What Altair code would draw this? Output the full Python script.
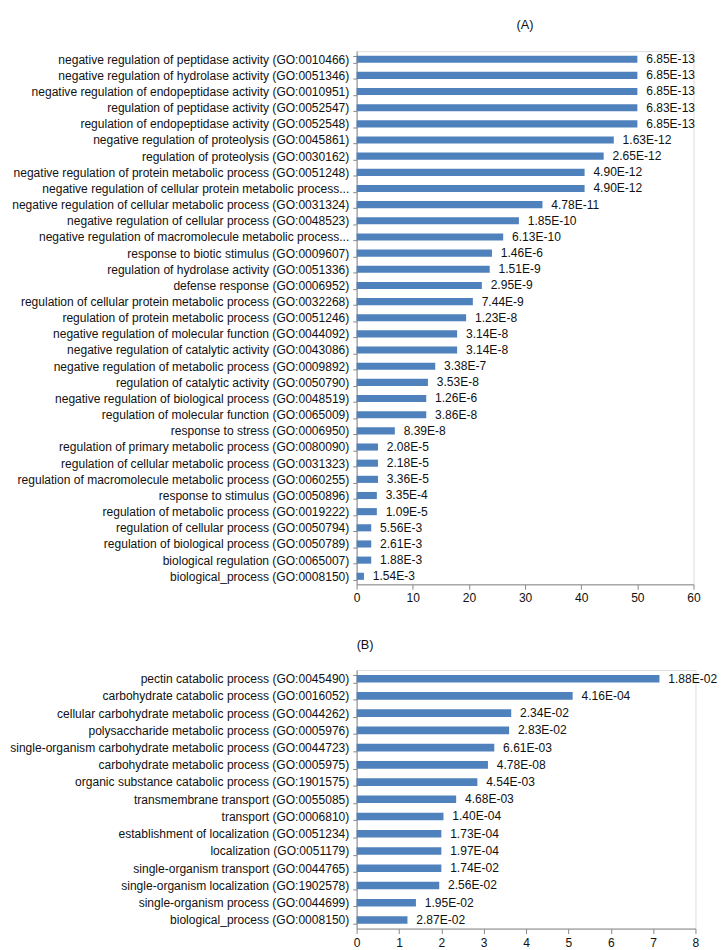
import altair as alt
import pandas as pd

# ---------- Panel A data ----------
a_terms = [
    "negative regulation of peptidase activity (GO:0010466)",
    "negative regulation of hydrolase activity (GO:0051346)",
    "negative regulation of endopeptidase activity (GO:0010951)",
    "regulation of peptidase activity (GO:0052547)",
    "regulation of endopeptidase activity (GO:0052548)",
    "negative regulation of proteolysis (GO:0045861)",
    "regulation of proteolysis (GO:0030162)",
    "negative regulation of protein metabolic process (GO:0051248)",
    "negative regulation of cellular protein metabolic process...",
    "negative regulation of cellular metabolic process (GO:0031324)",
    "negative regulation of cellular process (GO:0048523)",
    "negative regulation of macromolecule metabolic process...",
    "response to biotic stimulus (GO:0009607)",
    "regulation of hydrolase activity (GO:0051336)",
    "defense response (GO:0006952)",
    "regulation of cellular protein metabolic process (GO:0032268)",
    "regulation of protein metabolic process (GO:0051246)",
    "negative regulation of molecular function (GO:0044092)",
    "negative regulation of catalytic activity (GO:0043086)",
    "negative regulation of metabolic process (GO:0009892)",
    "regulation of catalytic activity (GO:0050790)",
    "negative regulation of biological process (GO:0048519)",
    "regulation of molecular function (GO:0065009)",
    "response to stress (GO:0006950)",
    "regulation of primary metabolic process (GO:0080090)",
    "regulation of cellular metabolic process (GO:0031323)",
    "regulation of macromolecule metabolic process (GO:0060255)",
    "response to stimulus (GO:0050896)",
    "regulation of metabolic process (GO:0019222)",
    "regulation of cellular process (GO:0050794)",
    "regulation of biological process (GO:0050789)",
    "biological regulation (GO:0065007)",
    "biological_process (GO:0008150)",
]
a_values = [50.0, 50.0, 50.0, 50.0, 50.0, 45.8, 44.0, 40.6, 40.6, 33.1,
            28.9, 26.1, 24.1, 23.7, 22.3, 20.7, 19.5, 17.9, 17.9, 14.0,
            12.7, 12.4, 12.4, 6.8, 3.8, 3.8, 3.8, 3.6, 3.6, 2.6,
            2.6, 2.6, 1.3]
a_pvals = ["6.85E-13", "6.85E-13", "6.85E-13", "6.83E-13", "6.85E-13",
           "1.63E-12", "2.65E-12", "4.90E-12", "4.90E-12", "4.78E-11",
           "1.85E-10", "6.13E-10", "1.46E-6", "1.51E-9", "2.95E-9",
           "7.44E-9", "1.23E-8", "3.14E-8", "3.14E-8", "3.38E-7",
           "3.53E-8", "1.26E-6", "3.86E-8", "8.39E-8", "2.08E-5",
           "2.18E-5", "3.36E-5", "3.35E-4", "1.09E-5", "5.56E-3",
           "2.61E-3", "1.88E-3", "1.54E-3"]
a_ticks = [0, 10, 20, 30, 40, 50, 60]

# ---------- Panel B data ----------
b_terms = [
    "pectin catabolic process (GO:0045490)",
    "carbohydrate catabolic process (GO:0016052)",
    "cellular carbohydrate metabolic process (GO:0044262)",
    "polysaccharide metabolic process (GO:0005976)",
    "single-organism carbohydrate metabolic process (GO:0044723)",
    "carbohydrate metabolic process (GO:0005975)",
    "organic substance catabolic process (GO:1901575)",
    "transmembrane transport (GO:0055085)",
    "transport (GO:0006810)",
    "establishment of localization (GO:0051234)",
    "localization (GO:0051179)",
    "single-organism transport (GO:0044765)",
    "single-organism localization (GO:1902578)",
    "single-organism process (GO:0044699)",
    "biological_process (GO:0008150)",
]
b_values = [7.15, 5.1, 3.65, 3.6, 3.25, 3.1, 2.85, 2.35, 2.05, 2.0,
            2.0, 2.0, 1.95, 1.4, 1.2]
b_pvals = ["1.88E-02", "4.16E-04", "2.34E-02", "2.83E-02", "6.61E-03",
           "4.78E-08", "4.54E-03", "4.68E-03", "1.40E-04", "1.73E-04",
           "1.97E-04", "1.74E-02", "2.56E-02", "1.95E-02", "2.87E-02"]
b_ticks = [0, 1, 2, 3, 4, 5, 6, 7, 8]

BAR = "#4F81BD"
AXIS = "#868686"
TXT = "#111111"
FONT = "Liberation Sans"
FS = 12.3


def panel(terms, values, pvals, ticks, step, width, title, anchor, toffset):
    df = pd.DataFrame({"term": terms, "value": values, "p": pvals})
    y = alt.Y(
        "term:N", sort=terms,
        scale=alt.Scale(paddingInner=0.56, paddingOuter=0.28),
        axis=alt.Axis(title=None, labelFontSize=FS, labelLimit=500, labelPadding=4,
                      tickSize=4, tickBand="extent", domainColor=AXIS, tickColor=AXIS,
                      labelColor=TXT, labelFont=FONT, minExtent=348, maxExtent=348),
    )
    x = alt.X(
        "value:Q",
        scale=alt.Scale(domain=[ticks[0], ticks[-1]], nice=False),
        axis=alt.Axis(title=None, values=ticks, grid=False, tickSize=5, labelPadding=3,
                      labelFontSize=FS, domainColor=AXIS, tickColor=AXIS,
                      labelColor=TXT, labelFont=FONT, labelFlush=False),
    )
    base = alt.Chart(df).encode(y=y, x=x)
    bars = base.mark_bar(color=BAR)
    text = base.mark_text(align="left", baseline="middle", dx=9, fontSize=FS,
                          font=FONT, color=TXT).encode(text="p:N")
    return (bars + text).properties(
        width=width,
        height=alt.Step(step),
        title=alt.TitleParams(title, anchor=anchor, frame="group", fontSize=13,
                              fontWeight="normal", font=FONT, color=TXT, offset=toffset),
    )


chart_a = panel(a_terms, a_values, a_pvals, a_ticks, 16.5, 344, "(A)", "middle", 14)
chart_b = panel(b_terms, b_values, b_pvals, b_ticks, 17.6, 346, "(B)", "start", 12)

chart = alt.vconcat(chart_a, chart_b, spacing=34).properties(
    padding={"left": 0, "top": 0, "right": 0, "bottom": 0}
).configure_view(stroke=None).configure(background="white")

chart.save("out.html", embed_options={"renderer": "svg", "actions": False})
